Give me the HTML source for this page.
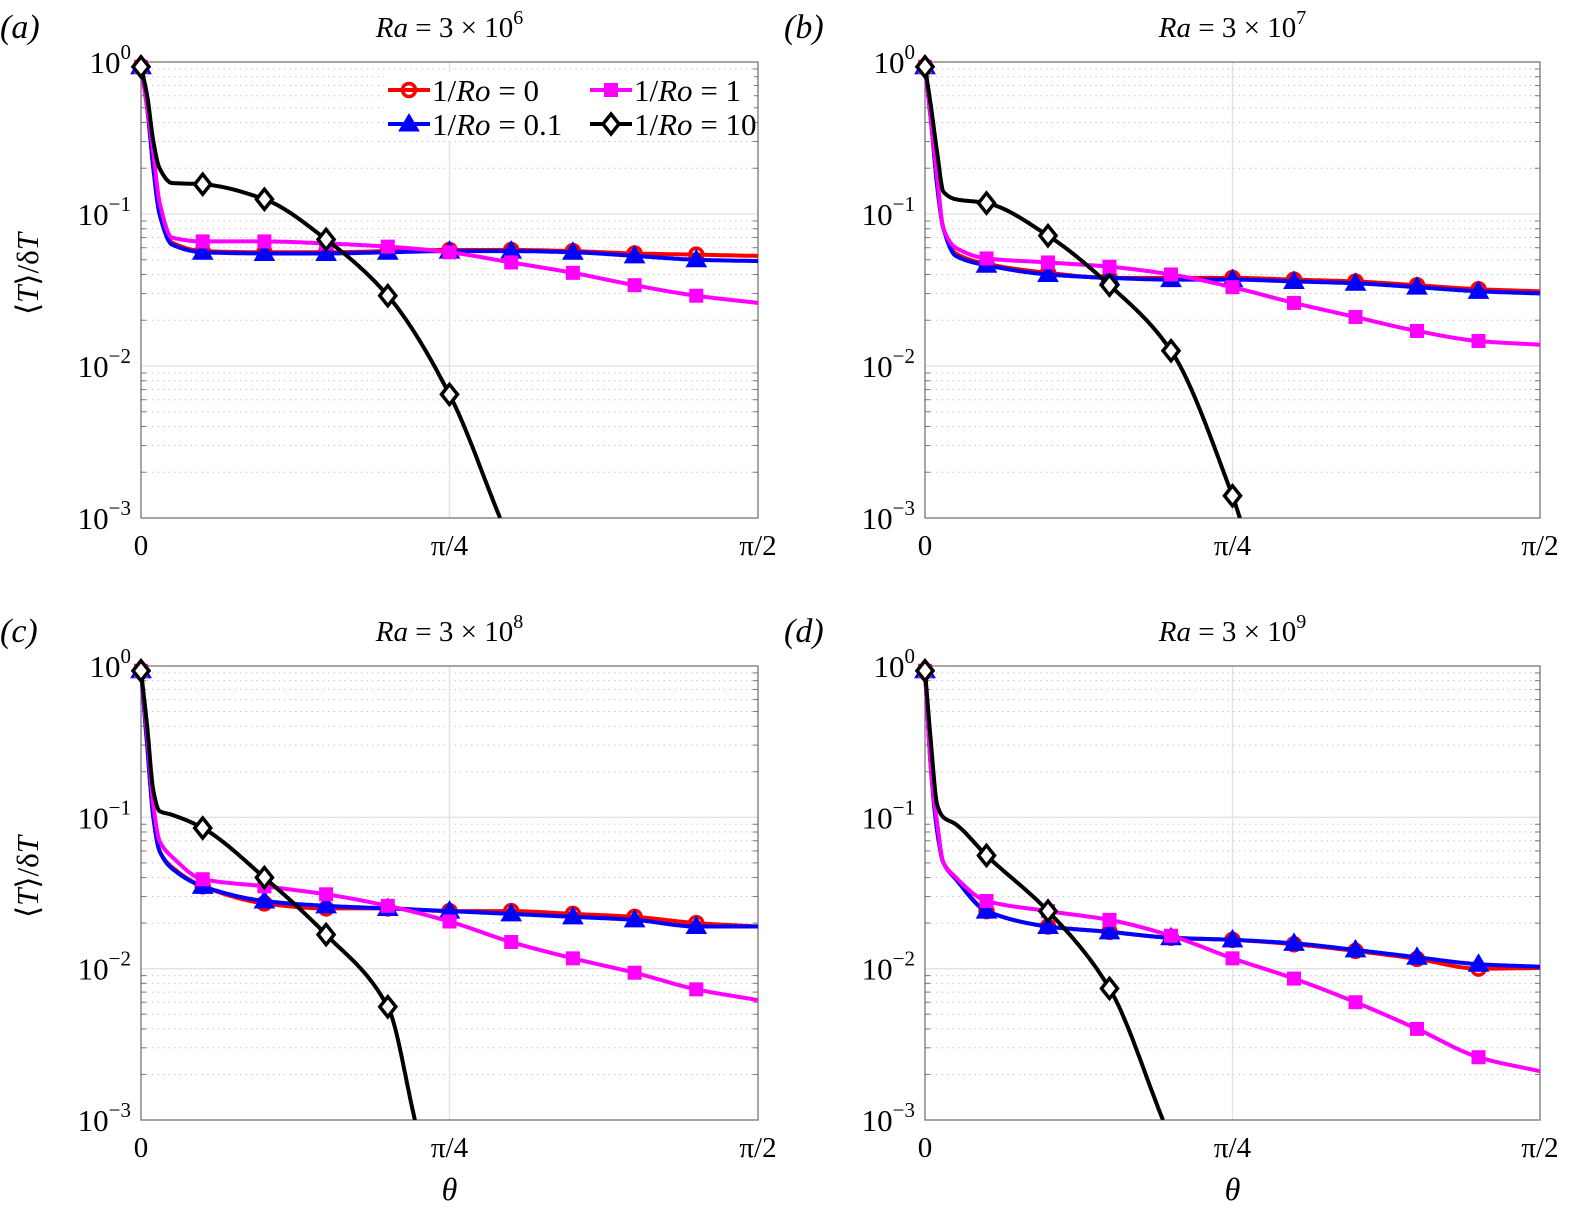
<!DOCTYPE html>
<html><head><meta charset="utf-8">
<style>
html,body{margin:0;padding:0;background:#fff;}
svg{display:block;font-family:"Liberation Serif","Times New Roman",serif;}
</style></head>
<body>
<svg id="chart" width="1571" height="1213" viewBox="0 0 1571 1213" xmlns="http://www.w3.org/2000/svg" font-family="Liberation Serif, serif"></svg>
<script>
const fracs = [0,0.01,0.02,0.03,0.05,0.1,0.2,0.3,0.4,0.5,0.6,0.7,0.8,0.9,1.0];
const markerFracs = [0,0.1,0.2,0.3,0.4,0.5,0.6,0.7,0.8,0.9];
const panelTitles = ["6","7","8","9"];
const panelLabels = ["(a)","(b)","(c)","(d)"];
const yTickExps = [0,-1,-2,-3];
const xTickLabels = ["0","\u03c0/4","\u03c0/2"];
const aRed   = [0.93,0.5,0.2,0.1,0.065,0.057,0.056,0.056,0.057,0.058,0.058,0.057,0.055,0.054,0.053];
const aBlue  = [0.93,0.5,0.2,0.1,0.063,0.056,0.055,0.055,0.056,0.057,0.057,0.056,0.053,0.050,0.049];
const aMag   = [0.93,0.5,0.25,0.12,0.07,0.066,0.066,0.064,0.061,0.056,0.048,0.041,0.034,0.029,0.026];
const aBlackF = [0,0.01,0.02,0.03,0.05,0.1,0.2,0.3,0.4,0.5,0.582];
const aBlack = [0.93,0.6,0.3,0.2,0.16,0.157,0.125,0.068,0.029,0.0065,0.001];
const bRed   = [0.93,0.4,0.15,0.08,0.055,0.047,0.041,0.038,0.038,0.038,0.037,0.036,0.034,0.032,0.031];
const bBlue  = [0.93,0.4,0.15,0.08,0.053,0.046,0.040,0.038,0.037,0.037,0.036,0.035,0.033,0.031,0.030];
const bMag   = [0.93,0.4,0.17,0.08,0.06,0.051,0.048,0.045,0.040,0.033,0.026,0.021,0.017,0.0146,0.0138];
const bBlackF = [0,0.01,0.02,0.03,0.05,0.1,0.2,0.3,0.4,0.5,0.512];
const bBlack = [0.93,0.5,0.25,0.14,0.125,0.118,0.072,0.034,0.0126,0.0014,0.001];
const cRed   = [0.93,0.3,0.1,0.06,0.047,0.035,0.027,0.025,0.025,0.024,0.024,0.023,0.022,0.020,0.019];
const cBlue  = [0.93,0.3,0.1,0.06,0.046,0.035,0.028,0.026,0.025,0.024,0.023,0.022,0.021,0.019,0.019];
const cMag   = [0.93,0.35,0.12,0.07,0.055,0.039,0.035,0.031,0.026,0.0205,0.015,0.0117,0.0094,0.0073,0.0062];
const cBlackF = [0,0.01,0.02,0.03,0.05,0.1,0.2,0.3,0.4,0.444];
const cBlack = [0.93,0.4,0.15,0.11,0.104,0.085,0.040,0.0168,0.0056,0.001];
const dRed   = [0.93,0.2,0.08,0.05,0.04,0.024,0.019,0.0175,0.016,0.0155,0.0145,0.0131,0.0116,0.0100,0.0101];
const dBlue  = [0.93,0.2,0.08,0.05,0.039,0.024,0.019,0.0175,0.016,0.0155,0.0147,0.0133,0.0119,0.0107,0.0103];
const dMag   = [0.93,0.2,0.09,0.05,0.04,0.028,0.024,0.021,0.0165,0.0117,0.0086,0.006,0.004,0.0026,0.0021];
const dBlackF = [0,0.01,0.02,0.03,0.05,0.1,0.2,0.3,0.387];
const dBlack = [0.93,0.3,0.12,0.1,0.09,0.056,0.024,0.0074,0.001];

const panels = [
 {x0:141,x1:758,y0:62,y1:518,red:aRed,blue:aBlue,mag:aMag,bf:aBlackF,bk:aBlack,ylab:true,xlab:false},
 {x0:925,x1:1540,y0:62,y1:518,red:bRed,blue:bBlue,mag:bMag,bf:bBlackF,bk:bBlack,ylab:false,xlab:false},
 {x0:141,x1:758,y0:666,y1:1120,red:cRed,blue:cBlue,mag:cMag,bf:cBlackF,bk:cBlack,ylab:true,xlab:true},
 {x0:925,x1:1540,y0:666,y1:1120,red:dRed,blue:dBlue,mag:dMag,bf:dBlackF,bk:dBlack,ylab:false,xlab:true}
];
const NS="http://www.w3.org/2000/svg";
const svg=document.getElementById('chart');
function mk(tag,attrs,parent){const e=document.createElementNS(NS,tag);for(const k in attrs)e.setAttribute(k,attrs[k]);(parent||svg).appendChild(e);return e;}

function interp(fs,vs,f){
  const n=fs.length; const ly=vs.map(v=>Math.log10(v));
  const d=[];for(let i=0;i<n-1;i++)d.push((ly[i+1]-ly[i])/(fs[i+1]-fs[i]));
  const m=[d[0]];for(let i=1;i<n-1;i++){m.push(d[i-1]*d[i]<=0?0:2/(1/d[i-1]+1/d[i]));}m.push(d[n-2]);
  let i=0;while(i<n-2&&f>fs[i+1])i++;
  const h=fs[i+1]-fs[i],t=(f-fs[i])/h;
  const h00=2*t*t*t-3*t*t+1,h10=t*t*t-2*t*t+t,h01=-2*t*t*t+3*t*t,h11=t*t*t-t*t;
  return Math.pow(10,h00*ly[i]+h10*h*m[i]+h01*ly[i+1]+h11*h*m[i+1]);
}

panels.forEach((p,pi)=>{
  const g=mk('g',{});
  
  
  const xs=f=>p.x0+f*(p.x1-p.x0);
  const ys=v=>p.y0+(-Math.log10(v)/3)*(p.y1-p.y0);
  const W=p.x1-p.x0,H=p.y1-p.y0;
  const clipId='clip'+pi;
  const cp=mk('clipPath',{id:clipId},g);mk('rect',{x:p.x0-12,y:p.y0-12,width:W+14,height:H+12},cp);
  for(let e=0;e>-3;e--){for(let k=2;k<=9;k++){const y=ys(k*Math.pow(10,e-1));
    const l=mk('line',{x1:p.x0,x2:p.x1,y1:y,y2:y,stroke:'#c8c8c8','stroke-width':1,'stroke-dasharray':'1.5,4'},g);
    
    mk('line',{x1:p.x0,x2:p.x0+5,y1:y,y2:y,stroke:'#777','stroke-width':1},g);
    mk('line',{x1:p.x1,x2:p.x1-5,y1:y,y2:y,stroke:'#777','stroke-width':1},g);}}
  [-1,-2].forEach(e=>{const y=ys(Math.pow(10,e));
    const l=mk('line',{x1:p.x0,x2:p.x1,y1:y,y2:y,stroke:'#e2e2e2','stroke-width':1.3},g);
    });
  const xm=xs(0.5);
  const vl=mk('line',{x1:xm,x2:xm,y1:p.y0,y2:p.y1,stroke:'#e2e2e2','stroke-width':1.3},g);
  
  const box=mk('rect',{x:p.x0,y:p.y0,width:W,height:H,fill:'none',stroke:'#777','stroke-width':1.3},g);
  
  yTickExps.forEach((e,i)=>{const y=ys(Math.pow(10,e));
    const t=mk('text',{x:p.x0-10,y:y+11,'text-anchor':'end','font-size':31,fill:'#000'},g);
    
    t.textContent='10';const s=mk('tspan',{dy:-14,'font-size':21},t);s.textContent=String(e).replace('-','\u2212');});
  xTickLabels.forEach((lab,i)=>{const x=xs(i/2);
    const t=mk('text',{x:x,y:p.y1+37,'text-anchor':'middle','font-size':29,fill:'#000'},g);
    t.textContent=lab;});
  const tt=mk('text',{x:(p.x0+p.x1)/2,y:p.y0-25,'text-anchor':'middle','font-size':29,fill:'#000'},g);
  
  const r=mk('tspan',{'font-style':'italic'},tt);r.textContent='Ra';
  const r2=mk('tspan',{},tt);r2.textContent=' = 3 \u00d7 10';
  const r3=mk('tspan',{dy:-13,'font-size':20},tt);r3.textContent=panelTitles[pi];
  const pl=mk('text',{x:p.x0-141,y:p.y0-24,'font-size':34,'font-style':'italic',fill:'#000'},g);
  pl.textContent=panelLabels[pi];
  if(p.ylab){const yl=mk('text',{x:0,y:0,'text-anchor':'middle','font-size':31,fill:'#000',transform:`translate(38,${(p.y0+p.y1)/2-16}) rotate(-90)`},g);
    
    const a=mk('tspan',{},yl);a.textContent='\u27e8';const b=mk('tspan',{'font-style':'italic'},yl);b.textContent='T';
    const c=mk('tspan',{},yl);c.textContent='\u27e9/\u03b4';const d=mk('tspan',{'font-style':'italic'},yl);d.textContent='T';}
  if(p.xlab){const xl=mk('text',{x:(p.x0+p.x1)/2,y:p.y1+80,'text-anchor':'middle','font-size':32,'font-style':'italic',fill:'#000'},g);
    xl.textContent='\u03b8';}
  const series=[
    {name:'ro-0',fs:fracs,vs:p.red,c:'#ff0000',m:'circle'},
    {name:'ro-0.1',fs:fracs,vs:p.blue,c:'#0000ff',m:'tri'},
    {name:'ro-1',fs:fracs,vs:p.mag,c:'#ff00ff',m:'sq'},
    {name:'ro-10',fs:p.bf,vs:p.bk,c:'#000000',m:'dia'}
  ];
  series.forEach(s=>{
    const sg=mk('g',{'clip-path':`url(#${clipId})`},g);
    
    const fmax=s.fs[s.fs.length-1];let d='';
    for(let k=0;k<=600;k++){const f=fmax*k/600;const v=interp(s.fs,s.vs,f);d+=(k?'L':'M')+xs(f).toFixed(1)+','+ys(v).toFixed(1);}
    const path=mk('path',{d:d,fill:'none',stroke:s.c,'stroke-width':4,'stroke-linejoin':'round'},sg);
    
    markerFracs.forEach(f=>{if(f>fmax)return;const v=interp(s.fs,s.vs,f);if(v<0.001)return;
      drawMarker(sg,s.m,xs(f),ys(v),s.c,'marker-'+s.name);});
  });
});
function drawMarker(parent,m,x,y,c,name){let e;
  if(m==='circle')e=mk('circle',{cx:x,cy:y,r:6.5,fill:'none',stroke:c,'stroke-width':3.5},parent);
  else if(m==='tri')e=mk('polygon',{points:`${x},${y-10} ${x-10},${y+7} ${x+10},${y+7}`,fill:c,stroke:c,'stroke-width':1},parent);
  else if(m==='sq')e=mk('rect',{x:x-7,y:y-7,width:14,height:14,fill:c},parent);
  else e=mk('polygon',{points:`${x},${y-10} ${x+8},${y} ${x},${y+10} ${x-8},${y}`,fill:'#fff',stroke:c,'stroke-width':3.5},parent);
  }
const lg=mk('g',{});

mk('rect',{x:384,y:72,width:370,height:68,fill:'#fff'},lg);
const entries=[[388,90,'#ff0000','circle','0'],[590,90,'#ff00ff','sq','1'],[388,124,'#0000ff','tri','0.1'],[590,124,'#000000','dia','10']];
entries.forEach(en=>{const eg=mk('g',{},lg);
  
  mk('line',{x1:en[0],x2:en[0]+42,y1:en[1],y2:en[1],stroke:en[2],'stroke-width':4},eg);
  drawMarker(eg,en[3],en[0]+21,en[1],en[2],'legend-marker');
  const t=mk('text',{x:en[0]+44,y:en[1]+11,'font-size':31,fill:'#000'},eg);
  const a=mk('tspan',{},t);a.textContent='1/';const b=mk('tspan',{'font-style':'italic'},t);b.textContent='Ro';
  const c=mk('tspan',{},t);c.textContent=' = '+en[4];});
</script>
</body></html>
